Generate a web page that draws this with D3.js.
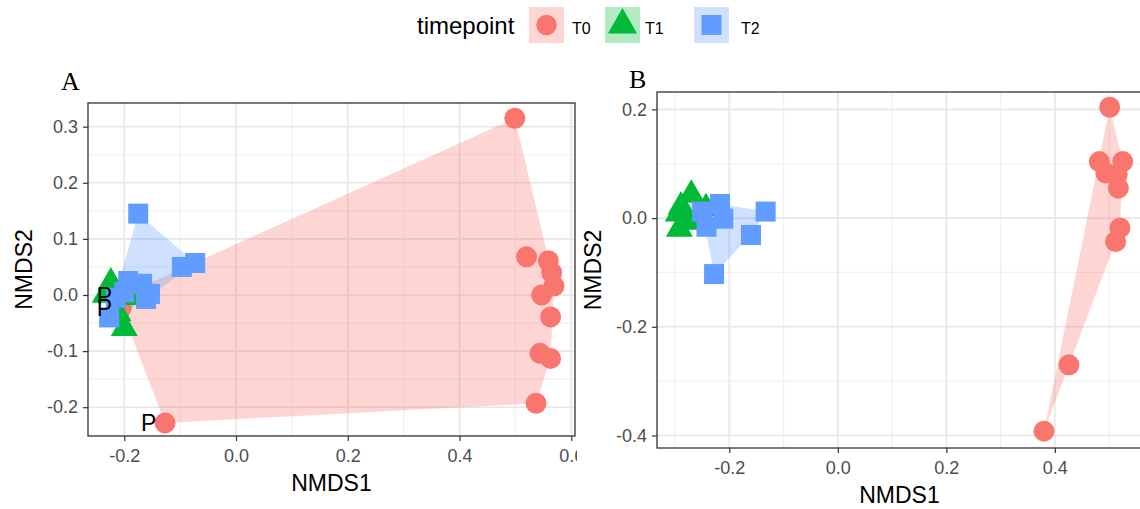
<!DOCTYPE html>
<html>
<head>
<meta charset="utf-8">
<script src="https://cdnjs.cloudflare.com/ajax/libs/d3/7.8.5/d3.min.js"></script>
<style>
  body { margin: 0; background: #fff; }
  text { font-family: "Liberation Sans", Arial, sans-serif; }
</style>
</head>
<body>
<div id="chart"></div>
<script>
// Global data

const timepoints = ["T0", "T1", "T2"];
const colors = ["#F8766D", "#00BA38", "#619CFF"];

// Panel A: [NMDS1, NMDS2]
const aT0 = [
  [0.499, 0.315], [0.520, 0.068], [0.559, 0.061], [0.565, 0.040],
  [0.569, 0.016], [0.547, 0.000], [0.563, -0.039], [0.544, -0.104],
  [0.563, -0.113], [0.537, -0.193], [-0.127, -0.228], [-0.206, -0.002],
  [-0.206, -0.023],
];
const aT1 = [
  [-0.224, 0.022], [-0.211, -0.033], [-0.200, -0.059], [-0.234, 0.000],
  [-0.177, -0.004], [-0.190, 0.015],
];
const aT2 = [
  [-0.175, 0.145], [-0.097, 0.050], [-0.073, 0.057], [-0.193, 0.025],
  [-0.168, 0.020], [-0.154, 0.002], [-0.161, -0.007], [-0.200, 0.005],
  [-0.215, -0.005], [-0.227, -0.040],
];
// points of T0 carrying a "P" label
const aLabelled = [[-0.127, -0.228], [-0.206, -0.002], [-0.206, -0.023]];
const aXTicks = [-0.2, 0, 0.2, 0.4, 0.6];
const aYTicks = [-0.2, -0.1, 0, 0.1, 0.2, 0.3];

// Panel B: [NMDS1, NMDS2]
const bT0 = [
  [0.501, 0.204], [0.482, 0.104], [0.525, 0.104], [0.494, 0.083],
  [0.515, 0.080], [0.517, 0.055], [0.520, -0.018], [0.512, -0.043],
  [0.426, -0.270], [0.380, -0.392],
];
const bT1 = [
  [-0.270, 0.043], [-0.289, 0.021], [-0.243, 0.018], [-0.292, -0.020],
  [-0.294, 0.008], [-0.274, -0.007],
];
const bT2 = [
  [-0.160, -0.031], [-0.133, 0.012], [-0.228, -0.103], [-0.217, 0.026],
  [-0.250, 0.012], [-0.242, -0.016], [-0.211, -0.001],
];
const bXTicks = [-0.2, 0, 0.2, 0.4];
const bYTicks = [-0.4, -0.2, 0, 0.2];

// Layout
const width = 1140;
const height = 509;
const shapes = [d3.symbolCircle, d3.symbolTriangle, d3.symbolSquare];
const shapeSizes = [346, 316, 400];

const svg = d3
  .select("#chart")
  .append("svg")
  .attr("width", width)
  .attr("height", height)
  .style("display", "block");

svg.append("rect")
  .attr("width", width)
  .attr("height", height)
  .attr("fill", "#fff");

const defs = svg.append("defs");

/**
 * Minor grid breaks halfway between major ticks, kept inside the domain.
 * @param {*} ticks major ticks
 * @param {*} domain scale domain
 * @return {Array}
 */
function minorBreaks(ticks, domain) {
  const step = ticks[1] - ticks[0];
  const out = [];
  for (let i = -1; i < ticks.length; i++) {
    const v = ticks[0] + step * (i + 0.5);
    if (v > domain[0] && v < domain[1]) {
      out.push(v);
    }
  }
  return out;
}

/**
 * Style an axis like ggplot theme_bw
 * @param {*} sel axis group
 */
function styleAxis(sel) {
  sel.select(".domain").remove();
  sel.selectAll(".tick line").attr("stroke", "#333").attr("stroke-width", 1.2);
  sel.selectAll(".tick text")
    .attr("fill", "#4D4D4D")
    .style("font-size", "18px")
    .style("font-family", "'Liberation Sans', Arial, sans-serif");
}

/**
 * Render one NMDS panel
 * @param {*} p panel options
 */
function drawPanel(p) {
  const g = svg.append("g");
  if (p.clipRight) {
    defs.append("clipPath")
      .attr("id", p.id + "-clip")
      .append("rect")
      .attr("x", 0)
      .attr("y", 0)
      .attr("width", p.clipRight)
      .attr("height", height);
    g.attr("clip-path", "url(#" + p.id + "-clip)");
  }

  const x = d3.scaleLinear().domain(p.xDomain).range([p.left, p.right]);
  const y = d3.scaleLinear().domain(p.yDomain).range([p.bottom, p.top]);

  // Grid lines
  const grid = g.append("g");
  grid.selectAll(".vminor")
    .data(minorBreaks(p.xTicks, p.xDomain))
    .join("line")
    .attr("x1", (d) => x(d)).attr("x2", (d) => x(d))
    .attr("y1", p.top).attr("y2", p.bottom)
    .attr("stroke", "#F0F0F0").attr("stroke-width", 1.2);
  grid.selectAll(".hminor")
    .data(minorBreaks(p.yTicks, p.yDomain))
    .join("line")
    .attr("y1", (d) => y(d)).attr("y2", (d) => y(d))
    .attr("x1", p.left).attr("x2", p.right)
    .attr("stroke", "#F0F0F0").attr("stroke-width", 1.2);
  grid.selectAll(".vmajor")
    .data(p.xTicks.filter((d) => d > p.xDomain[0] && d < p.xDomain[1]))
    .join("line")
    .attr("x1", (d) => x(d)).attr("x2", (d) => x(d))
    .attr("y1", p.top).attr("y2", p.bottom)
    .attr("stroke", "#E6E6E6").attr("stroke-width", 1.6);
  grid.selectAll(".hmajor")
    .data(p.yTicks)
    .join("line")
    .attr("y1", (d) => y(d)).attr("y2", (d) => y(d))
    .attr("x1", p.left).attr("x2", p.right)
    .attr("stroke", "#E6E6E6").attr("stroke-width", 1.6);

  // Convex hulls per timepoint
  p.series.forEach(function(pts, i) {
    const hull = d3.polygonHull(pts.map((d) => [x(d[0]), y(d[1])]));
    if (hull) {
      g.append("path")
        .attr("d", "M" + hull.join("L") + "Z")
        .attr("fill", colors[i])
        .attr("fill-opacity", 0.3);
    }
  });

  // Points
  p.series.forEach(function(pts, i) {
    g.append("g")
      .selectAll("path")
      .data(pts)
      .join("path")
      .attr("transform", (d) => "translate(" + x(d[0]) + "," + y(d[1]) + ")")
      .attr("d", d3.symbol().type(shapes[i]).size(shapeSizes[i]))
      .attr("fill", colors[i]);
  });

  // Point labels
  g.append("g")
    .selectAll("text")
    .data(p.labelled || [])
    .join("text")
    .attr("x", (d) => x(d[0]) - 16.5)
    .attr("y", (d) => y(d[1]))
    .attr("dy", "0.36em")
    .attr("text-anchor", "middle")
    .style("font-size", "23px")
    .attr("fill", "#000")
    .text("P");

  // Panel border
  g.append("rect")
    .attr("x", p.left)
    .attr("y", p.top)
    .attr("width", p.right - p.left)
    .attr("height", p.bottom - p.top)
    .attr("fill", "none")
    .attr("stroke", "#333")
    .attr("stroke-width", 1.3);

  // Axes
  const fmt = (d) => d.toFixed(1);
  g.append("g")
    .attr("transform", "translate(0," + p.bottom + ")")
    .call(d3.axisBottom(x).tickValues(p.xTicks).tickSize(5).tickPadding(8).tickFormat(fmt))
    .call(styleAxis);
  g.append("g")
    .attr("transform", "translate(" + p.left + ",0)")
    .call(d3.axisLeft(y).tickValues(p.yTicks).tickSize(5).tickPadding(5).tickFormat(fmt))
    .call(styleAxis);

  // Axis titles
  g.append("text")
    .attr("x", (p.left + p.right) / 2)
    .attr("y", p.bottom + 55)
    .attr("text-anchor", "middle")
    .style("font-size", "23px")
    .text("NMDS1");
  g.append("text")
    .attr("transform", "translate(" + (p.left - 56) + "," + ((p.top + p.bottom) / 2) + ") rotate(-90)")
    .attr("text-anchor", "middle")
    .style("font-size", "23px")
    .text("NMDS2");

  // Panel tag
  g.append("text")
    .attr("x", p.tagX)
    .attr("y", p.tagY)
    .style("font-family", "'Liberation Serif', 'Times New Roman', serif")
    .style("font-size", "26px")
    .text(p.tag);
}

drawPanel({
  id: "pa",
  tag: "A", tagX: 61, tagY: 90,
  left: 88, right: 575, top: 103, bottom: 436,
  clipRight: 577,
  xDomain: [-0.2649, 0.6067], yDomain: [-0.2513, 0.3422],
  xTicks: aXTicks, yTicks: aYTicks,
  series: [aT0, aT1, aT2],
  labelled: aLabelled,
});

drawPanel({
  id: "pb",
  tag: "B", tagX: 629, tagY: 88,
  left: 657, right: 1142, top: 92, bottom: 448,
  xDomain: [-0.3332, 0.5606], yDomain: [-0.4230, 0.2320],
  xTicks: bXTicks, yTicks: bYTicks,
  series: [bT0, bT1, bT2],
});

// Legend
const legend = svg.append("g");
legend.append("text")
  .attr("x", 417)
  .attr("y", 34)
  .style("font-size", "24px")
  .text("timepoint");

const keyX = [529, 605, 694];
const keyLabelX = [572, 645, 741];
const keySizes = [330, 370, 400];

const keys = legend.selectAll(".key")
  .data(timepoints)
  .join("g")
  .attr("class", "key");

keys.append("rect")
  .attr("x", (d, i) => keyX[i])
  .attr("y", 7)
  .attr("width", 35)
  .attr("height", 36)
  .attr("fill", (d, i) => colors[i])
  .attr("fill-opacity", 0.3);

keys.append("path")
  .attr("transform", (d, i) => "translate(" + (keyX[i] + 17.5) + ",25)")
  .attr("d", (d, i) => d3.symbol().type(shapes[i]).size(keySizes[i])())
  .attr("fill", (d, i) => colors[i]);

keys.append("text")
  .attr("x", (d, i) => keyLabelX[i])
  .attr("y", 34)
  .style("font-size", "16px")
  .text((d) => d);
</script>
</body>
</html>
